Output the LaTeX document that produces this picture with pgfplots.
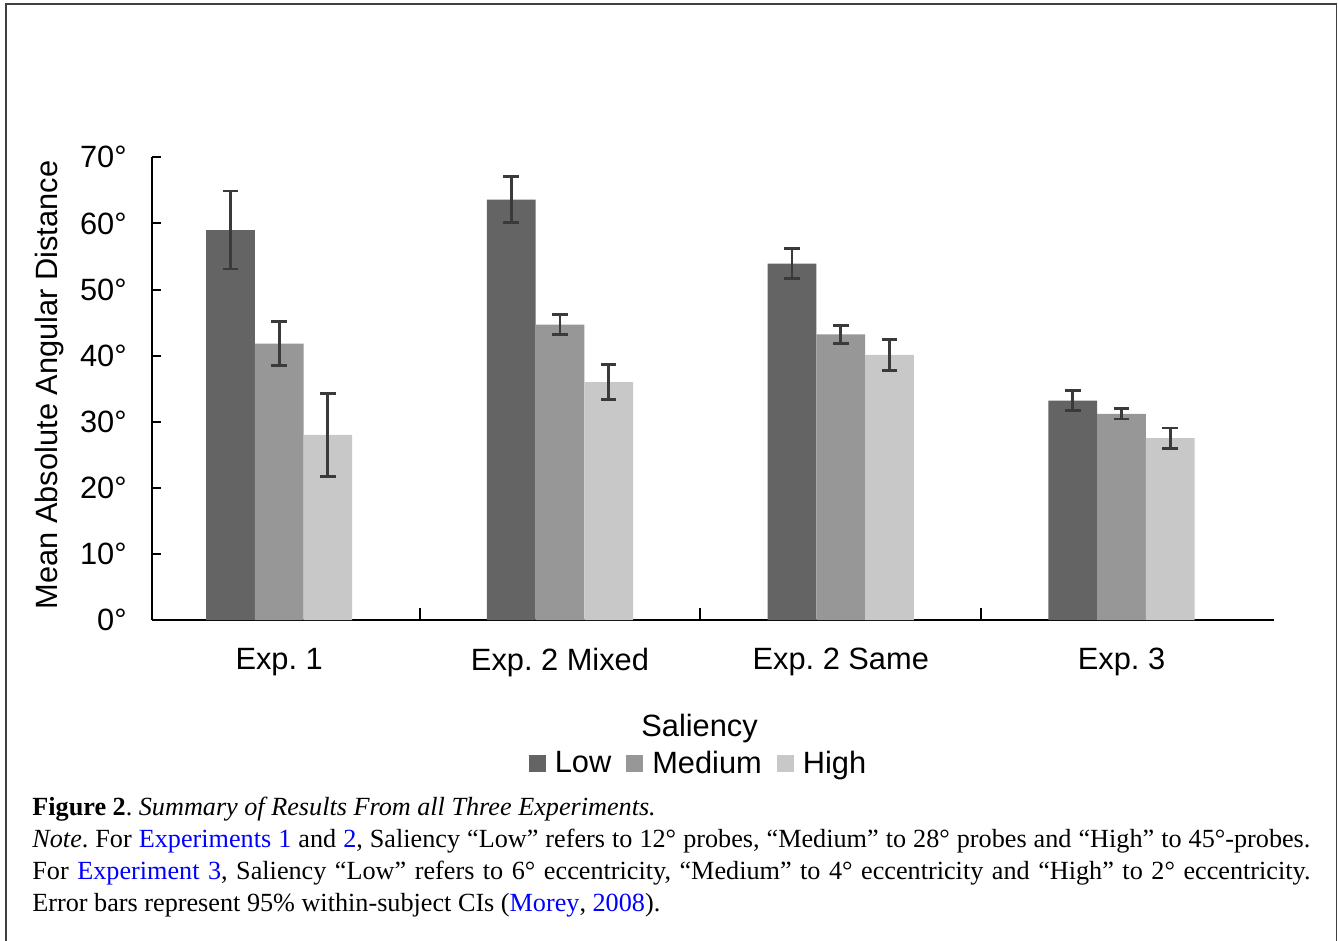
\documentclass[border=0pt]{standalone}
\usepackage{pgfplots}
\pgfplotsset{compat=1.18}
\usepackage{pgfplotstable}
\usepackage{fontspec}
\setmainfont{Liberation Sans}
\newfontfamily\captionserif{Liberation Serif}
\definecolor{cLow}{RGB}{100,100,100}
\definecolor{cMed}{RGB}{151,151,151}
\definecolor{cHigh}{RGB}{200,200,200}
\definecolor{cErr}{RGB}{58,58,58}
\definecolor{linkblue}{RGB}{0,0,255}
\pgfplotstableread{
x low lowe med mede high highe
0 59.0 5.9  41.8 3.35 28.0 6.3
1 63.6 3.45 44.7 1.55 36.0 2.65
2 53.9 2.25 43.2 1.4  40.1 2.3
3 33.2 1.5  31.2 0.8  27.5 1.55
}\datatable
\begin{document}
\frenchspacing
\begin{tikzpicture}
\useasboundingbox (0,0) rectangle (669pt,-470.5pt);
% frame
\draw[black!75, line width=0.7pt] (3pt,-470.5pt) -- (3pt,-2pt) -- (668.2pt,-2pt) -- (668.2pt,-470.5pt);
\begin{axis}[
  at={(76pt,-310pt)}, anchor=south west,
  scale only axis, width=561pt, height=231.35pt,
  xmin=-0.453, xmax=3.543, ymin=0, ymax=70,
  axis lines*=left,
  axis line style={line width=1pt, black},
  ybar=0pt, bar width=24.35pt,
  xtick={0,1,2,3},
  xticklabels={Exp. 1, Exp. 2 Mixed, Exp. 2 Same, Exp. 3},
  minor xtick={0.5,1.5,2.5},
  ytick={0,10,...,70},
  yticklabel={\pgfmathprintnumber{\tick}°},
  /pgf/number format/assume math mode=true,
  tick align=inside,
  major tick length=4.5pt, minor tick length=6pt,
  tick style={line width=1pt, black},
  major x tick style={draw=none},
  tick label style={font=\fontsize{15.4}{18}\selectfont},
  yticklabel style={inner sep=0pt, xshift=-12.5pt},
  xticklabel style={inner sep=0pt, anchor=north, yshift=-14pt},
  ylabel={Mean Absolute Angular Distance},
  ylabel style={at={(axis description cs:-0.0845,0.508)}, anchor=base, font=\fontsize{15.4}{18}\selectfont},
  legend columns=3,
  legend style={at={(axis description cs:0.4875,-0.3106)}, anchor=center, draw=none, fill=none,
    font=\fontsize{15.4}{18}\selectfont,
    /tikz/every odd column/.append style={column sep=3pt},
    /tikz/every even column/.append style={column sep=6pt},
    nodes={inner sep=1.5pt}},
  legend image code/.code={\fill[#1] (0pt,-4.2pt) rectangle (8.5pt,4.2pt);},
  error bars/y dir=both, error bars/y explicit,
  error bars/error bar style={line width=1.4pt, cErr},
  error bars/error mark options={line width=1.4pt, cErr, mark size=3.9pt, rotate=90},
  clip=false,
]
\addplot[fill=cLow, draw=none] table[x=x, y=low, y error=lowe] {\datatable};
\addplot[fill=cMed, draw=none] table[x=x, y=med, y error=mede] {\datatable};
\addplot[fill=cHigh, draw=none] table[x=x, y=high, y error=highe] {\datatable};
\legend{Low, Medium, High}
\node[anchor=base, font=\fontsize{15.4}{18}\selectfont] at (axis description cs:0.488,-0.2515) {Saliency};
\end{axis}
\node[anchor=base west, inner sep=0pt, text width=639pt, align=justify,
  font=\captionserif\fontsize{13.1}{16}\selectfont] at (16pt,-407.5pt) {%
\frenchspacing\textbf{Figure 2}. \textit{Summary of Results From all Three Experiments.}\par
\textit{Note}. For \textcolor{linkblue}{Experiments 1} and \textcolor{linkblue}{2}, Saliency “Low” refers to 12° probes, “Medium” to 28° probes and “High” to 45°-probes.\linebreak
For \textcolor{linkblue}{Experiment 3}, Saliency “Low” refers to 6° eccentricity, “Medium” to 4° eccentricity and “High” to 2° eccentricity.\linebreak
Error bars represent 95\% within-subject CIs (\textcolor{linkblue}{Morey}, \textcolor{linkblue}{2008}).};
\end{tikzpicture}
\end{document}
